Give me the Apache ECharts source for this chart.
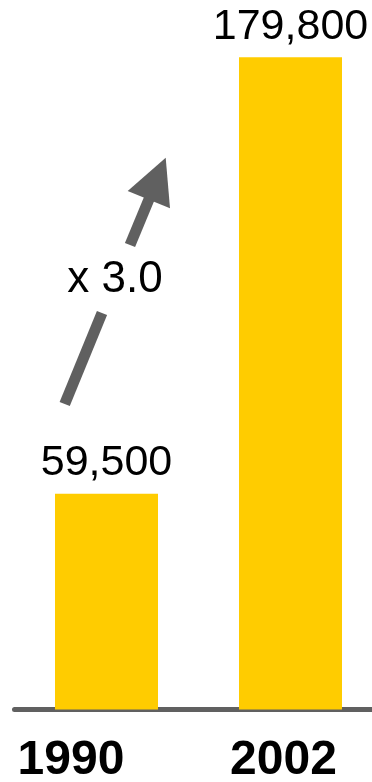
<!DOCTYPE html>
<html>
<head>
<meta charset="utf-8">
<script src="https://cdn.jsdelivr.net/npm/echarts@6/dist/echarts.min.js"></script>
<style>
  html, body { margin: 0; padding: 0; background: #ffffff; }
  #chart { width: 372px; height: 782px; }
</style>
</head>
<body>
<div id="chart"></div>
<script>
const categories = ['1990', '2002'];
const values = [59500, 179800];
const growthLabel = 'x ' + (values[1] / values[0]).toFixed(1);

const FONT = '"Liberation Sans", Arial, sans-serif';
const GREY = '#606060';

const chart = echarts.init(document.getElementById('chart'), null, { renderer: 'canvas' });

chart.setOption({
  animation: false,
  backgroundColor: '#ffffff',
  grid: { left: 14.5, top: 56.6, width: 368, bottom: 72.5, containLabel: false, outerBoundsMode: 'none' },
  xAxis: {
    type: 'category',
    data: categories,
    axisLine: { show: true, lineStyle: { color: GREY, width: 5 } },
    axisTick: { show: false },
    axisLabel: {
      margin: 27,
      hideOverlap: false,
      formatter: function (v, i) { return '{c' + i + '|' + v + '}'; },
      rich: {
        c0: { fontFamily: FONT, fontSize: 48, fontWeight: 'bold', color: '#000', lineHeight: 48, padding: [0, 71, 0, 0] },
        c1: { fontFamily: FONT, fontSize: 48, fontWeight: 'bold', color: '#000', lineHeight: 48, padding: [0, 14, 0, 0] }
      }
    }
  },
  yAxis: {
    type: 'value',
    min: 0,
    max: 180000,
    show: false,
    splitLine: { show: false }
  },
  series: [{
    type: 'bar',
    data: values,
    barWidth: 103,
    itemStyle: { color: '#FFCC00' },
    label: {
      show: true,
      position: 'top',
      distance: 9,
      fontFamily: FONT,
      fontSize: 43,
      color: '#000',
      formatter: function (p) { return p.value.toLocaleString('en-US'); }
    }
  }],
  graphic: [
    { type: 'line', shape: { x1: 64.7, y1: 404, x2: 102, y2: 313 }, style: { stroke: GREY, lineWidth: 11, lineCap: 'butt' } },
    { type: 'line', shape: { x1: 130, y1: 245, x2: 149.5, y2: 198 }, style: { stroke: GREY, lineWidth: 11, lineCap: 'butt' } },
    { type: 'polygon', shape: { points: [[127.7, 191], [165.7, 157.7], [170, 208.3]] }, style: { fill: GREY } },
    { type: 'text', x: 115, y: 279.5, style: { text: growthLabel, font: '44px ' + FONT, fill: '#000', textAlign: 'center', textVerticalAlign: 'middle' } }
  ]
});
</script>
</body>
</html>
